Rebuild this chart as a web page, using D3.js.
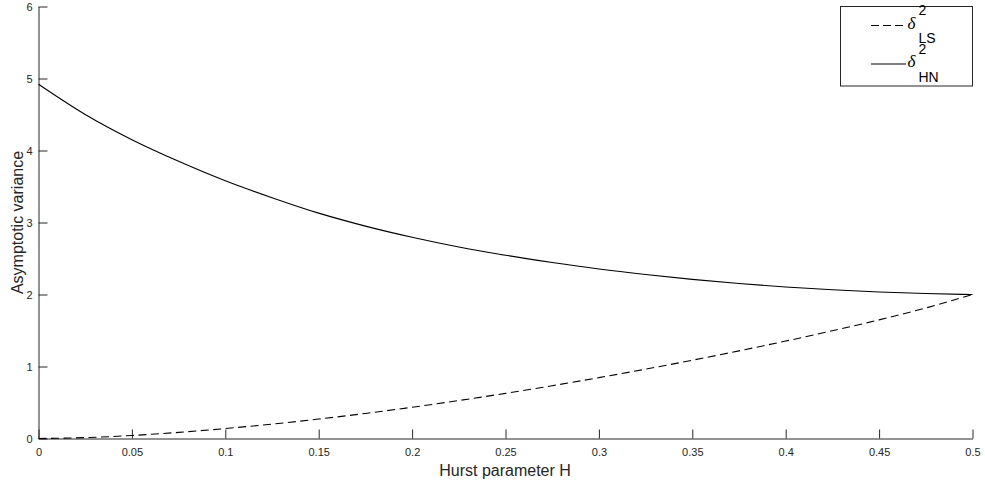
<!DOCTYPE html>
<html><head><meta charset="utf-8">
<script src="https://cdn.jsdelivr.net/npm/d3@7"></script>
<style>
body{margin:0;background:#fff;}
svg{display:block;font-family:"Liberation Sans",Arial,Helvetica,sans-serif;}
</style></head>
<body>
<svg id="chart" width="985" height="485"></svg>
<script>
const hurst = [0,0.025,0.05,0.075,0.1,0.125,0.15,0.175,0.2,0.225,0.25,0.275,0.3,0.325,0.35,0.375,0.4,0.425,0.45,0.475,0.5];
const deltaLS = [0,0.012,0.042,0.085,0.138,0.2,0.27,0.348,0.434,0.527,0.627,0.733,0.845,0.963,1.087,1.217,1.353,1.496,1.648,1.813,2.0];
const deltaHN = [4.92,4.50,4.15,3.85,3.58,3.345,3.13,2.95,2.795,2.66,2.545,2.445,2.355,2.278,2.21,2.153,2.105,2.066,2.035,2.013,2.0];
const xTicks = [0,0.05,0.1,0.15,0.2,0.25,0.3,0.35,0.4,0.45,0.5];
const yTicks = [0,1,2,3,4,5,6];
const xLabel = "Hurst parameter H";
const yLabel = "Asymptotic variance";

const svg = d3.select("#chart");
const L = 38.5, R = 972.5, T = 6.5, B = 438.5;
const x = d3.scaleLinear().domain([0,0.5]).range([L,R]);
const y = d3.scaleLinear().domain([0,6]).range([B,T]);
const axisColor = "#262626";

const gx = svg.append("g").attr("transform",`translate(0,${B})`)
  .call(d3.axisBottom(x).tickValues(xTicks).tickSizeInner(-9).tickSizeOuter(0).tickPadding(9.5).tickFormat(d=>String(d)));
const gy = svg.append("g").attr("transform",`translate(${L},0)`)
  .call(d3.axisLeft(y).tickValues(yTicks).tickSizeInner(-9).tickSizeOuter(0).tickPadding(6).tickFormat(d=>String(d)));
[gx,gy].forEach(g=>{
  g.select(".domain").attr("stroke",axisColor).attr("stroke-width",1);
  g.selectAll(".tick line").attr("stroke",axisColor).attr("stroke-width",1);
  g.selectAll(".tick text").attr("fill",axisColor).attr("font-size",11)
   .attr("font-family","Liberation Sans, Arial, sans-serif");
});

const line = d3.line().x((d,i)=>x(hurst[i])).y(d=>y(d)).curve(d3.curveMonotoneX);
svg.append("path").datum(deltaHN).attr("d",line).attr("fill","none").attr("stroke","#000").attr("stroke-width",1.1);
svg.append("path").datum(deltaLS).attr("d",line).attr("fill","none").attr("stroke","#000").attr("stroke-width",1.1).attr("stroke-dasharray","8,4.5");

svg.append("text").attr("x",505).attr("y",476).attr("text-anchor","middle")
  .attr("font-size",16).attr("fill",axisColor).text(xLabel);
svg.append("text").attr("transform",`translate(23,${(T+B)/2}) rotate(-90)`).attr("text-anchor","middle")
  .attr("font-size",16).attr("fill",axisColor).text(yLabel);

const lg = svg.append("g");
lg.append("rect").attr("x",840.5).attr("y",6.5).attr("width",132).attr("height",79.5)
  .attr("fill","#fff").attr("stroke",axisColor).attr("stroke-width",1);
const items = [{name:"LS",dash:"8,4",yy:25.5},{name:"HN",dash:null,yy:64}];
items.forEach(it=>{
  const l = lg.append("line").attr("x1",871).attr("x2",906).attr("y1",it.yy).attr("y2",it.yy)
    .attr("stroke","#000").attr("stroke-width",1.1);
  if(it.dash) l.attr("stroke-dasharray",it.dash);
  const by = it.yy + 3;
  lg.append("text").attr("x",907.5).attr("y",by).attr("font-size",17)
    .attr("font-family","Liberation Serif, Times New Roman, serif").attr("font-style","italic").attr("fill","#000").text("δ");
  lg.append("text").attr("x",918.5).attr("y",by-13.5).attr("font-size",14).attr("fill","#000").text("2");
  lg.append("text").attr("x",918.5).attr("y",by+14.5).attr("font-size",14).attr("fill","#000").text(it.name);
});
</script>
</body></html>
